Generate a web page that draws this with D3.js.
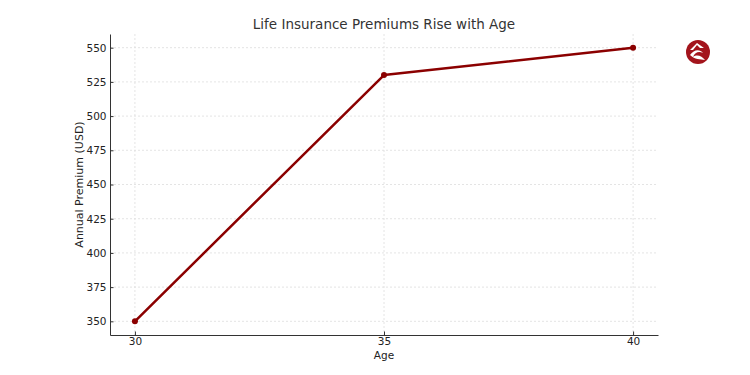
<html>
<head>
<script src="https://d3js.org/d3.v7.min.js"></script>
<style>
  body { margin: 0; background: #fff; }
  text { font-family: "DejaVu Sans", sans-serif; }
</style>
</head>
<body>
<div id="chart"></div>
<script>
// chart data
var ages = [30, 35, 40];
var premiums = [350, 530, 550];
var yTicks = [350, 375, 400, 425, 450, 475, 500, 525, 550];

var width = 750, height = 375;
var margin = {top: 34, right: 92, bottom: 40, left: 110};

var svg = d3.select("#chart").append("svg")
  .attr("width", width)
  .attr("height", height);

var x = d3.scaleLinear().domain([29.5, 40.5]).range([margin.left, width - margin.right]);
var y = d3.scaleLinear().domain([340, 560]).range([height - margin.bottom, margin.top]);

// grid
svg.append("g").selectAll("line.gy")
  .data(yTicks).enter().append("line")
  .attr("x1", margin.left).attr("x2", width - margin.right)
  .attr("y1", d => y(d)).attr("y2", d => y(d))
  .attr("stroke", "#ddd").attr("stroke-width", 0.8)
  .attr("stroke-dasharray", "2,2");
svg.append("g").selectAll("line.gx")
  .data(ages).enter().append("line")
  .attr("y1", margin.top).attr("y2", height - margin.bottom)
  .attr("x1", d => x(d)).attr("x2", d => x(d))
  .attr("stroke", "#ddd").attr("stroke-width", 0.8)
  .attr("stroke-dasharray", "2,2");

// axes, ticks pointing inward
var xAxis = svg.append("g")
  .attr("transform", "translate(0," + (height - margin.bottom) + ")")
  .call(d3.axisBottom(x).tickValues(ages).tickSize(-3.5).tickPadding(3).tickSizeOuter(0));
var yAxis = svg.append("g")
  .attr("transform", "translate(" + margin.left + ",0)")
  .call(d3.axisLeft(y).tickValues(yTicks).tickSize(-3.5).tickPadding(3.5).tickSizeOuter(0));
[xAxis, yAxis].forEach(function(a) {
  a.select(".domain").attr("stroke", "#333").attr("stroke-width", 1);
  a.selectAll(".tick line").attr("stroke", "#333");
  a.selectAll(".tick text").attr("fill", "#222").style("font-size", "10.5px").style("font-family", "DejaVu Sans");
});

// line + markers
var pts = ages.map((a, i) => [a, premiums[i]]);
svg.append("path")
  .datum(pts)
  .attr("fill", "none")
  .attr("stroke", "#8b0000")
  .attr("stroke-width", 2.5)
  .attr("stroke-linejoin", "round")
  .attr("d", d3.line().x(d => x(d[0])).y(d => y(d[1])));
svg.selectAll("circle.pt")
  .data(pts).enter().append("circle")
  .attr("cx", d => x(d[0])).attr("cy", d => y(d[1]))
  .attr("r", 3).attr("fill", "#8b0000");

// labels
svg.append("text")
  .attr("x", (margin.left + width - margin.right) / 2).attr("y", 29)
  .attr("text-anchor", "middle")
  .style("font-size", "13.5px").attr("fill", "#333")
  .text("Life Insurance Premiums Rise with Age");
svg.append("text")
  .attr("x", (margin.left + width - margin.right) / 2).attr("y", 359)
  .attr("text-anchor", "middle")
  .style("font-size", "10.5px").attr("fill", "#222")
  .text("Age");
svg.append("text")
  .attr("transform", "translate(83," + ((margin.top + height - margin.bottom) / 2) + ") rotate(-90)")
  .attr("text-anchor", "middle")
  .style("font-size", "11px").attr("fill", "#222")
  .text("Annual Premium (USD)");

// logo
var logo = svg.append("g").attr("transform", "translate(698,52)");
logo.append("circle").attr("r", 12).attr("fill", "#a3141c");
logo.append("path").attr("d", "M-8,-2 L-1,-9 L6,-4 L2,-4 L-1,-7 L-5,-2 Z").attr("fill", "#fff");
logo.append("path").attr("d", "M-8,3 C-4,-3 2,-3 5,1 C1,-1 -3,0 -5,5 C-1,2 4,4 7,8 C2,7 -3,8 -8,3 Z").attr("fill", "#fff");
</script>
</body>
</html>
